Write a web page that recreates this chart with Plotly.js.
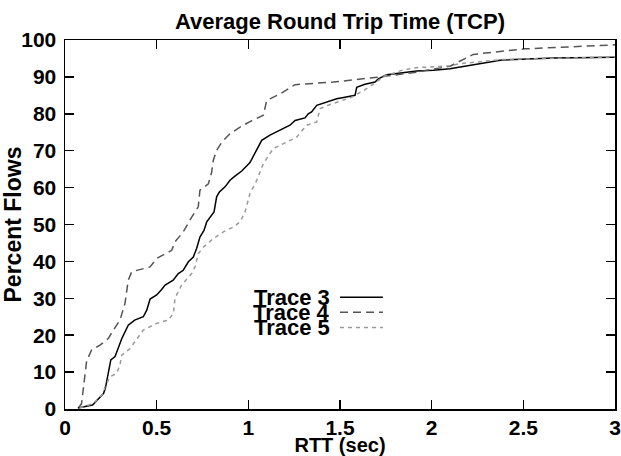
<!DOCTYPE html>
<html>
<head>
<meta charset="utf-8">
<script src="https://cdn.plot.ly/plotly-3.0.1.min.js"></script>
<style>html,body{margin:0;padding:0;background:#fff;}#chart{width:621px;height:456px;}</style>
</head>
<body>
<div id="chart"></div>
<script>
// Trace 3 (solid)
const x3 = [0.07,0.15,0.21,0.22,0.236,0.25,0.273,0.30,0.31,0.345,0.38,0.427,0.446,0.464,0.50,0.527,0.546,0.59,0.618,0.645,0.673,0.70,0.718,0.736,0.758,0.773,0.80,0.813,0.827,0.842,0.873,0.90,0.927,0.964,1.009,1.046,1.073,1.118,1.173,1.227,1.255,1.309,1.327,1.345,1.373,1.427,1.482,1.527,1.582,1.591,1.636,1.691,1.709,1.755,1.827,1.918,2.009,2.1,2.382,2.664,3.0];
const y3 = [0.3,1.1,4.2,5.6,9.7,13.3,14.2,17.8,19.1,22.7,24.1,25,26.8,29.8,30.9,32.4,33.6,34.9,36.7,37.6,39.9,41.2,43.5,46.6,48.4,50.7,52.5,53.4,57.5,58.8,60.2,62,63.1,64.5,66.8,70.1,72.8,74.2,75.5,76.9,78.2,78.9,80,80.5,82.3,83.2,84.1,84.5,85,87.2,88,88.6,89.5,90.6,91,91.6,91.8,92.2,94.6,95.1,95.3];
// Trace 4 (long dash)
const x4 = [0.075,0.09,0.118,0.145,0.191,0.236,0.264,0.30,0.327,0.345,0.364,0.409,0.464,0.50,0.582,0.60,0.645,0.691,0.727,0.736,0.782,0.80,0.809,0.827,0.855,0.90,0.955,1.009,1.082,1.1,1.173,1.255,1.464,1.736,1.918,2.1,2.227,2.509,3.0];
const y4 = [0.5,1.4,13,16,17.3,19.1,21.4,24.1,28.6,34.9,37.2,37.8,38.5,40.8,43,45.3,48,52,54.8,59.3,61,64.2,67.4,70.1,72.3,74.6,76.4,77.9,79.6,83.6,85.4,87.9,88.6,90.1,91.3,92.9,96.1,97.6,98.7];
// Trace 5 (short dash)
const x5 = [0.08,0.155,0.209,0.218,0.245,0.282,0.30,0.309,0.355,0.427,0.50,0.564,0.591,0.60,0.636,0.691,0.709,0.727,0.755,0.809,0.864,0.918,0.955,0.982,1.009,1.046,1.082,1.136,1.191,1.264,1.318,1.373,1.391,1.445,1.564,1.645,1.70,1.736,1.845,1.918,2.1,2.155,2.382,2.664,3.0];
const y5 = [0.3,1.5,4.2,6,8.7,9.7,11.9,14.6,16.4,21.4,23.2,24.1,25.9,30,33.6,36.7,38.5,42.1,43.9,46.2,48,49.3,50.7,53.4,58.4,62,66.5,70.6,71.9,73.7,76.9,77.8,81.4,82.5,84.5,86.8,88.6,90.1,91.9,92.5,93.0,93.6,94.7,95.1,95.4];

const names = ["Trace 3","Trace 4","Trace 5"];
const colors = ["#000000","#555555","#999999"];
const dashes = ["solid","8px,5px","4px,4px"];
const xs = [x3,x4,x5], ys = [y3,y4,y5];

const FONT = "Liberation Sans, Arial, Helvetica, sans-serif";

const data = xs.map((x,i)=>({
  x: x, y: ys[i], type: "scatter", mode: "lines", name: names[i],
  line: {color: colors[i], width: 1.5, dash: dashes[i]}, showlegend: false
}));

const legY = [0.303, 0.262, 0.221];
const annotations = names.map((n,i)=>({
  xref:"paper", yref:"paper", x:0.486, y:legY[i], xanchor:"right", yanchor:"middle",
  text:n, showarrow:false, font:{family:FONT, size:22, weight:"bold", color:"#000"}
}));
const shapes = names.map((n,i)=>({
  type:"line", xref:"paper", yref:"paper", x0:0.50, x1:0.578, y0:legY[i], y1:legY[i],
  line:{color:colors[i], width:1.5, dash:dashes[i]}
}));

const axisCommon = {
  showline:true, linecolor:"#000", linewidth:1.5, mirror:"ticks",
  ticks:"inside", ticklen:9, tickwidth:1.5, tickcolor:"#000",
  showgrid:false, zeroline:false,
  tickfont:{family:FONT, size:21, weight:"bold", color:"#000"}
};

const layout = {
  width:621, height:456,
  margin:{l:65, r:6, t:40, b:47},
  paper_bgcolor:"#fff", plot_bgcolor:"#fff",
  title:{text:"Average Round Trip Time (TCP)", x:0.5, xref:"paper", y:0.954, yref:"container", yanchor:"middle",
    font:{family:FONT, size:22, weight:"bold", color:"#000"}},
  xaxis:Object.assign({}, axisCommon, {range:[0,3], dtick:0.5, tick0:0, ticklabelstandoff:-1,
    title:{text:"RTT (sec)", standoff:5, font:{family:FONT, size:20, weight:"bold", color:"#000"}}}),
  yaxis:Object.assign({}, axisCommon, {range:[0,100], dtick:10, tick0:0, ticklabelstandoff:3,
    title:{text:"Percent Flows", standoff:1, font:{family:FONT, size:23, weight:"bold", color:"#000"}}}),
  annotations:annotations, shapes:shapes, showlegend:false
};

Plotly.newPlot("chart", data, layout, {staticPlot:true, displayModeBar:false});
</script>
</body>
</html>
